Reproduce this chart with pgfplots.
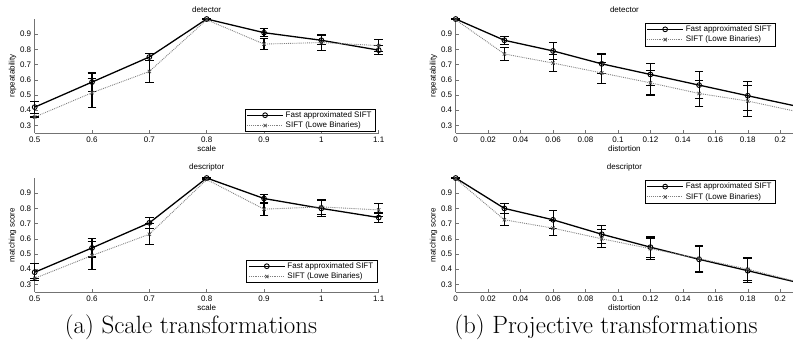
\documentclass[border=0pt]{standalone}
\usepackage{pgfplots}
\pgfplotsset{compat=1.18}
\usepackage{pgfplotstable}
\usepackage{fontspec}
\newfontfamily\arial{Liberation Sans}
\definecolor{axgray}{gray}{0.45}
\definecolor{siftgray}{gray}{0.5}

\pgfplotstableread{
x y e
0.5 0.42 0.04
0.6 0.585 0.06
0.7 0.75 0.025
0.8 1.0 0
0.9 0.91 0.025
1.0 0.86 0.03
1.1 0.795 0.03
}\tlfast
\pgfplotstableread{
x y e
0.5 0.355 0
0.6 0.515 0.095
0.7 0.655 0.07
0.8 0.995 0
0.9 0.835 0.035
1.0 0.845 0.055
1.1 0.825 0.04
}\tlsift
\pgfplotstableread{
x y e
0.5 0.38 0.055
0.6 0.54 0.06
0.7 0.705 0.035
0.8 1.0 0
0.9 0.865 0.025
1.0 0.80 0.055
1.1 0.74 0.03
}\blfast
\pgfplotstableread{
x y e
0.5 0.34 0
0.6 0.49 0.09
0.7 0.63 0.07
0.8 0.99 0
0.9 0.795 0.04
1.0 0.81 0.05
1.1 0.79 0.045
}\blsift
\pgfplotstableread{
x y e
0 1.0 0
0.03 0.86 0.025
0.06 0.79 0.055
0.09 0.705 0.065
0.12 0.635 0.075
0.15 0.565 0.09
0.18 0.495 0.095
0.215 0.415 0
}\trfast
\pgfplotstableread{
x y e
0 0.995 0
0.03 0.77 0.045
0.06 0.71 0.055
0.09 0.645 0.07
0.12 0.58 0.08
0.15 0.51 0.085
0.18 0.46 0.10
0.215 0.38 0
}\trsift
\pgfplotstableread{
x y e
0 1.0 0
0.03 0.80 0.035
0.06 0.725 0.06
0.09 0.63 0.06
0.12 0.545 0.07
0.15 0.465 0.085
0.18 0.39 0.08
0.215 0.302 0
}\brfast
\pgfplotstableread{
x y e
0 0.995 0
0.03 0.725 0.04
0.06 0.67 0.05
0.09 0.60 0.06
0.12 0.535 0.07
0.15 0.47 0.085
0.18 0.40 0.075
0.215 0.305 0
}\brsift

\pgfplotsset{
  sub/.style={
    scale only axis, clip=false,
    height=114pt,
    ymin=0.25, ymax=1.0,
    ytick={0.3,0.4,0.5,0.6,0.7,0.8,0.9},
    yticklabels={0.3,0.4,0.5,0.6,0.7,0.8,0.9},
    axis x line*=bottom, axis y line*=left,
    axis line style={axgray, line width=0.6pt},
    tick align=inside, major tick length=3pt,
    every tick/.style={axgray, line width=0.5pt},
    tick label style={font=\arial\fontsize{8}{9}\selectfont, text=black},
    label style={font=\arial\fontsize{8}{9}\selectfont},
    title style={font=\arial\fontsize{8}{9}\selectfont, at={(0.5,1)}, anchor=south, yshift=-3pt},
    xlabel style={yshift=3pt},
    ylabel style={yshift=-3pt},
    legend cell align=left,
    legend style={font=\arial\fontsize{8}{9}\selectfont, draw=black, line width=0.4pt, fill=white,
      inner xsep=1.5pt, inner ysep=0.5pt, row sep=-1pt},
    legend image code/.code={\draw[mark repeat=2,mark phase=2] plot coordinates {(0pt,0pt) (18pt,0pt) (36pt,0pt)};},
  },
  fast/.style={black, line width=1.3pt, mark=o, mark size=2.4pt,
    mark options={solid, line width=0.9pt},
    error bars/.cd, y dir=both, y explicit,
    error bar style={black, line width=1.1pt, solid},
    error mark options={rotate=90, black, mark size=4.3pt, line width=1.1pt}},
  sift/.style={siftgray, line width=0.9pt, densely dotted, mark=x, mark size=2.3pt,
    mark options={solid, black!70, line width=0.8pt},
    error bars/.cd, y dir=both, y explicit,
    error bar style={black, line width=1.1pt, solid},
    error mark options={rotate=90, black, mark size=4.3pt, line width=1.1pt}},
  leftx/.style={width=344pt, xmin=0.5, xmax=1.1,
    xtick={0.5,0.6,0.7,0.8,0.9,1,1.1},
    xticklabels={0.5,0.6,0.7,0.8,0.9,1,1.1}, xlabel={scale}},
  rightx/.style={width=337.5pt, xmin=0, xmax=0.208,
    xtick={0,0.02,0.04,0.06,0.08,0.1,0.12,0.14,0.16,0.18,0.2},
    xticklabels={0,0.02,0.04,0.06,0.08,0.1,0.12,0.14,0.16,0.18,0.2}, xlabel={distortion}},
}

\begin{document}
\begin{tikzpicture}
\useasboundingbox (0,0) rectangle (793pt,347pt);
% top-left
\begin{axis}[sub, leftx, at={(34.7pt,214pt)}, anchor=south west,
  title={detector}, ylabel={repeatability},
  legend style={at={(0.99,0.01)}, anchor=south east}]
\addplot[fast] table[x=x,y=y,y error=e]{\tlfast};
\addlegendentry{Fast approximated SIFT}
\addplot[sift] table[x=x,y=y,y error=e]{\tlsift};
\addlegendentry{SIFT (Lowe Binaries)}
\end{axis}
% top-right
\begin{axis}[sub, rightx, at={(455.7pt,214pt)}, anchor=south west,
  title={detector}, ylabel={repeatability},
  legend style={at={(0.947,0.965)}, anchor=north east}]
\addplot[fast] table[x=x,y=y,y error=e]{\trfast};
\addlegendentry{Fast approximated SIFT}
\addplot[sift] table[x=x,y=y,y error=e]{\trsift};
\addlegendentry{SIFT (Lowe Binaries)}
\end{axis}
% bottom-left
\begin{axis}[sub, leftx, at={(34.7pt,55pt)}, anchor=south west,
  title={descriptor}, ylabel={matching score},
  legend style={at={(0.995,0.08)}, anchor=south east}]
\addplot[fast] table[x=x,y=y,y error=e]{\blfast};
\addlegendentry{Fast approximated SIFT}
\addplot[sift] table[x=x,y=y,y error=e]{\blsift};
\addlegendentry{SIFT (Lowe Binaries)}
\end{axis}
% bottom-right
\begin{axis}[sub, rightx, at={(455.7pt,55pt)}, anchor=south west,
  title={descriptor}, ylabel={matching score},
  legend style={at={(0.947,0.98)}, anchor=north east}]
\addplot[fast] table[x=x,y=y,y error=e]{\brfast};
\addlegendentry{Fast approximated SIFT}
\addplot[sift] table[x=x,y=y,y error=e]{\brsift};
\addlegendentry{SIFT (Lowe Binaries)}
\end{axis}
\node[font=\fontsize{25}{30}\selectfont, anchor=base] at (191pt,13pt) {(a) Scale transformations};
\node[font=\fontsize{25}{30}\selectfont, anchor=base] at (606pt,13pt) {(b) Projective transformations};
\end{tikzpicture}
\end{document}
